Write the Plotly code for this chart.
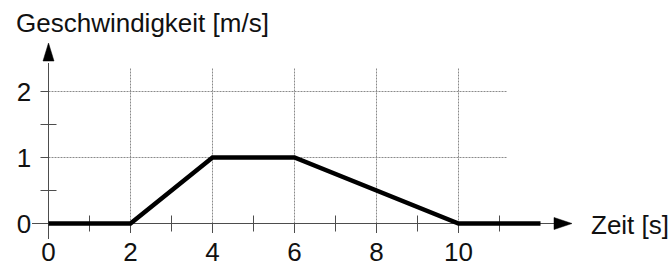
import plotly.graph_objects as go

# ---- data ----
time_s = [0, 2, 4, 6, 10, 12]
speed_ms = [0, 0, 1, 1, 0, 0]

x_tick_vals = [0, 2, 4, 6, 8, 10]
x_tick_text = ["0", "2", "4", "6", "8", "10"]
y_tick_vals = [0, 1, 2]
y_tick_text = ["0", "1", "2"]
x_minor_ticks = [1, 3, 5, 7, 9, 11]
y_minor_ticks = [0.5, 1.5]
x_grid_vals = [2, 4, 6, 8, 10]
y_grid_vals = [1, 2]

y_label = "Geschwindigkeit [m/s]"
x_label = "Zeit [s]"

# ---- geometry (pixel scale of the reference) ----
W, H = 672, 268
PX_X = 41.0   # pixels per second
PX_Y = 66.0   # pixels per m/s
X0_PX = 48.5
Y0_PX = 223.5
x_range = [-X0_PX / PX_X, (W - X0_PX) / PX_X]
y_range = [-(H - Y0_PX) / PX_Y, Y0_PX / PX_Y]

def dx(px):
    return px / PX_X

def dy(px):
    return px / PX_Y

FONT = "Liberation Sans, Arial, sans-serif"
AXIS_COL = "#4d4d4d"
GRID_COL = "#8a8a8a"

x_axis_start = dx(-16.5)
x_axis_arrow_base = dx(554 - X0_PX)
x_axis_arrow_tip = dx(572 - X0_PX)
y_axis_start = -dy(15.5)
y_axis_arrow_base = dy(Y0_PX - 61)
y_axis_arrow_tip = dy(Y0_PX - 43)
grid_top = dy(Y0_PX - 68)
grid_right = dx(507 - X0_PX)

fig = go.Figure()

# grid lines (dotted, partial)
gx, gy = [], []
for v in x_grid_vals:
    gx += [v, v, None]
    gy += [0, grid_top, None]
for v in y_grid_vals:
    gx += [0, grid_right, None]
    gy += [v, v, None]
fig.add_trace(go.Scatter(x=gx, y=gy, mode="lines",
                         line=dict(color=GRID_COL, width=1, dash="2px,1px"),
                         hoverinfo="skip", showlegend=False))

# axis lines
fig.add_trace(go.Scatter(x=[x_axis_start, x_axis_arrow_base + dx(2)], y=[0, 0], mode="lines",
                         line=dict(color=AXIS_COL, width=1), hoverinfo="skip", showlegend=False))
fig.add_trace(go.Scatter(x=[0, 0], y=[y_axis_start, y_axis_arrow_base - dy(2)], mode="lines",
                         line=dict(color=AXIS_COL, width=1), hoverinfo="skip", showlegend=False))

# ticks
tx, ty = [], []
for v in x_minor_ticks:
    tx += [v, v, None]
    ty += [-dy(8), dy(8), None]
for v in x_tick_vals[1:]:
    tx += [v, v, None]
    ty += [0, -dy(9.5), None]
for v in y_minor_ticks:
    tx += [-dx(8), dx(8), None]
    ty += [v, v, None]
for v in y_tick_vals[1:]:
    tx += [-dx(8), 0, None]
    ty += [v, v, None]
fig.add_trace(go.Scatter(x=tx, y=ty, mode="lines",
                         line=dict(color=AXIS_COL, width=1), hoverinfo="skip", showlegend=False))

# arrow heads
fig.add_trace(go.Scatter(
    x=[x_axis_arrow_base, x_axis_arrow_tip, x_axis_arrow_base, x_axis_arrow_base],
    y=[dy(6), 0, -dy(6), dy(6)], mode="lines", fill="toself",
    fillcolor="black", line=dict(color="black", width=0.5),
    hoverinfo="skip", showlegend=False))
fig.add_trace(go.Scatter(
    x=[-dx(5.5), 0, dx(5.5), -dx(5.5)],
    y=[y_axis_arrow_base, y_axis_arrow_tip, y_axis_arrow_base, y_axis_arrow_base],
    mode="lines", fill="toself",
    fillcolor="black", line=dict(color="black", width=0.5),
    hoverinfo="skip", showlegend=False))

# the data line
fig.add_trace(go.Scatter(x=time_s, y=speed_ms, mode="lines",
                         line=dict(color="black", width=4.5),
                         hoverinfo="skip", showlegend=False))

fig.add_annotation(text=x_label, x=589 / W, xref="paper", y=0, yref="y",
                   xanchor="left", yanchor="middle", yshift=-1, showarrow=False,
                   font=dict(family=FONT, size=26, color="#111111"))

fig.update_layout(
    width=W, height=H,
    margin=dict(l=0, r=0, t=0, b=0, autoexpand=False),
    paper_bgcolor="white", plot_bgcolor="white",
    title=dict(text=y_label, x=16 / W, xanchor="left", xref="container",
               y=1 - 23 / H, yref="container", yanchor="middle",
               font=dict(family=FONT, size=26, color="#111111")),
    xaxis=dict(range=x_range, anchor="free", position=(H - Y0_PX) / H,
               automargin=False,
               showgrid=False, zeroline=False, showline=False,
               tickmode="array", tickvals=x_tick_vals, ticktext=x_tick_text,
               ticks="outside", ticklen=5, tickcolor="rgba(0,0,0,0)",
               tickfont=dict(family=FONT, size=26, color="#111111")),
    yaxis=dict(range=y_range, anchor="free", position=X0_PX / W,
               automargin=False,
               showgrid=False, zeroline=False, showline=False,
               tickmode="array", tickvals=y_tick_vals, ticktext=y_tick_text,
               ticks="outside", ticklen=12, tickcolor="rgba(0,0,0,0)",
               tickfont=dict(family=FONT, size=26, color="#111111")),
    showlegend=False,
)

fig.write_html("out.html", config={"displayModeBar": False, "staticPlot": True},
               post_script="document.body.style.margin='0';")
